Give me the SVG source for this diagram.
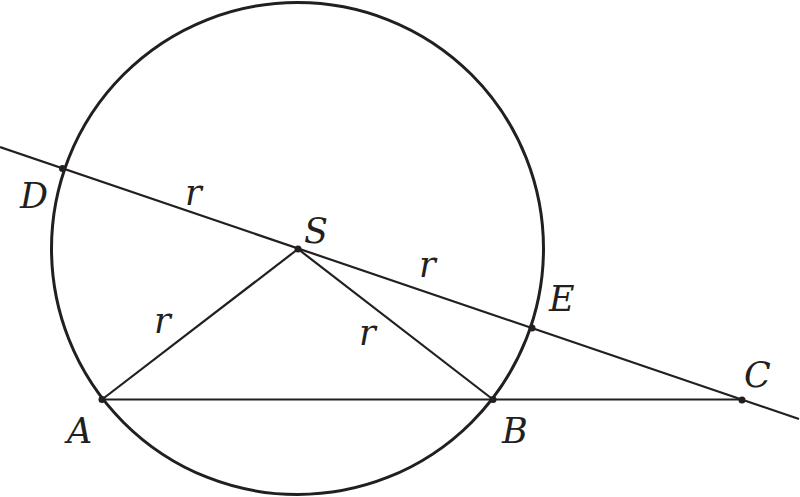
<svg xmlns="http://www.w3.org/2000/svg" width="800" height="497" viewBox="0 0 800 497">
<style>
.ln{stroke:#231f20;stroke-width:2.2;fill:none}
.cir{stroke:#231f20;stroke-width:3;fill:none}
.pt{fill:#231f20}
.lb{font-family:"DejaVu Serif","Liberation Serif",serif;font-style:italic;font-size:35px;fill:#231f20}
</style>
<rect width="800" height="497" fill="#fff"/>
<g id="connectors">
<circle class="cir" cx="297.5" cy="248.5" r="246"/>
<line class="ln" x1="0" y1="147" x2="799" y2="419"/>
<line class="ln" x1="102" y1="399.5" x2="742" y2="399.5"/>
<line class="ln" x1="102" y1="399.5" x2="298" y2="249"/>
<line class="ln" x1="298" y1="249" x2="493" y2="399.5"/>
</g>
<g id="D"><circle class="pt" cx="62.5" cy="168.5" r="3.5"/><text class="lb" x="20" y="208">D</text></g>
<g id="S"><circle class="pt" cx="298" cy="249" r="3.5"/><text class="lb" x="304" y="243">S</text></g>
<g id="E"><circle class="pt" cx="532" cy="328" r="3.5"/><text class="lb" x="549" y="311">E</text></g>
<g id="A"><circle class="pt" cx="102" cy="399.5" r="3.5"/><text class="lb" x="67" y="443">A</text></g>
<g id="B"><circle class="pt" cx="493" cy="399.5" r="3.5"/><text class="lb" x="502" y="443">B</text></g>
<g id="C"><circle class="pt" cx="742" cy="400" r="3.5"/><text class="lb" x="744" y="387">C</text></g>
<g id="labels">
<text class="lb" x="185" y="205">r</text>
<text class="lb" x="419" y="277">r</text>
<text class="lb" x="154" y="333">r</text>
<text class="lb" x="359" y="345">r</text>
</g>
</svg>
